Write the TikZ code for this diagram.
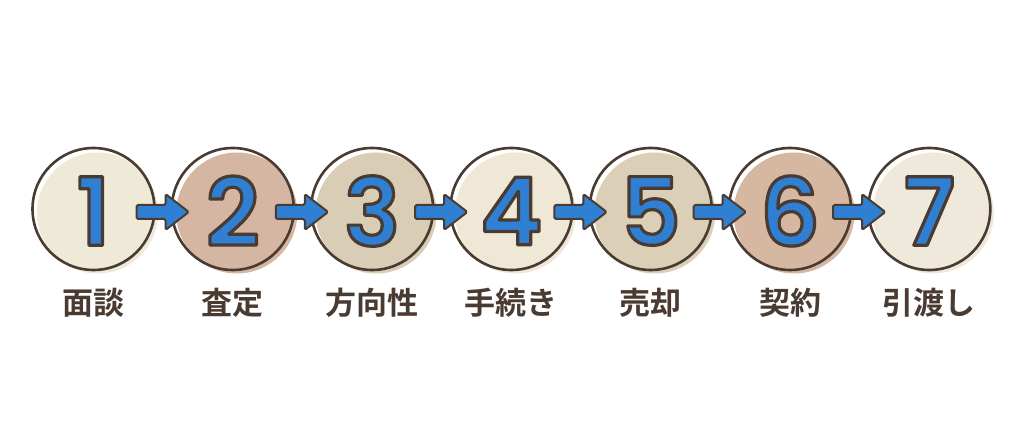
\documentclass[tikz,border=0pt]{standalone}
\usepackage{fontspec}
\usetikzlibrary{calc}
\newfontfamily\jpfont{Noto Sans CJK JP}[BoldFont={* Bold}]
\newfontfamily\numfont{Poppins}[UprightFont={* SemiBold}]
\definecolor{ink}{HTML}{4A3B32}
\definecolor{numblue}{HTML}{2F80D3}
\definecolor{fA}{HTML}{EFE9D8}
\definecolor{fB}{HTML}{D5B6A2}
\definecolor{fC}{HTML}{D9CDB6}
\definecolor{fD}{HTML}{EFE8D6}
\definecolor{fE}{HTML}{DCCFB8}
\definecolor{fF}{HTML}{D6B7A2}
\definecolor{fG}{HTML}{EFE9DB}
\newcommand\outlinenum[1]{\textcolor{numblue}{\special{pdf:literal direct 2 Tr 3.2 w 1 j 0.29 0.231 0.196 RG}#1\special{pdf:literal direct 0 Tr 0.4 w}}}
\tikzset{
  stepcircle/.style={circle, minimum size=122pt, inner sep=0pt, draw=ink, line width=2.6pt},
  numtext/.style={font=\numfont\fontsize{94}{94}\selectfont},
  steplabel/.style={font=\jpfont\bfseries\fontsize{31}{31}\selectfont, text=ink},
  flowarrow/.style={fill=numblue, draw=ink, line width=2pt, line join=round, rounded corners=1.5pt}
}
\begin{document}
\begin{tikzpicture}[x=1pt,y=-1pt]
\useasboundingbox (0,0) rectangle (1024,435);
\fill[white] (0,0) rectangle (1024,435);
\foreach \i/\col/\lab in {1/fA/面談,2/fB/査定,3/fC/方向性,4/fD/手続き,5/fE/売却,6/fF/契約,7/fG/引渡し}{
  \pgfmathsetmacro{\cx}{93.5+139.3*(\i-1)}
  \fill[\col] (\cx+4,213) circle (60.5);
  \node[stepcircle] (c\i) at (\cx,209) {};
  \node[numtext] (n\i) at (\cx,211) {\outlinenum{\i}};
  \node[steplabel] (l\i) at (\cx,303) {\lab};
}
\foreach \a/\b in {1/2,2/3,3/4,4/5,5/6,6/7}{
  \draw[flowarrow] ($(c\a.center)+(43,-4)$) -- ($(c\a.center)+(72,-4)$) -- ($(c\a.center)+(72,-15)$)
    -- ($(c\b.center)+(-44,3)$) -- ($(c\a.center)+(72,21)$) -- ($(c\a.center)+(72,10)$)
    -- ($(c\a.center)+(43,10)$) -- cycle;
}
\end{tikzpicture}
\end{document}
